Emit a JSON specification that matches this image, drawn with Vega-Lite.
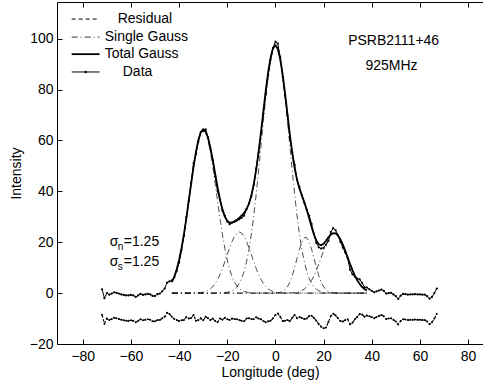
{
"$schema":"https://vega.github.io/schema/vega-lite/v6.json",
"width":426,"height":342,
"autosize":{"type":"none"},
"padding":{"left":57,"top":2,"right":0,"bottom":41},
"background":"white",
"config":{"view":{"stroke":null},"font":"Liberation Sans",
"axis":{"domainColor":"black","domainWidth":1,"tickColor":"black","tickWidth":1,"tickSize":-5,"labelFont":"Liberation Sans","labelFontSize":14,"labelColor":"black","titleFont":"Liberation Sans","titleFontSize":14,"titleFontWeight":"normal","titleColor":"black","grid":false,"labelFlush":false,"labelOverlap":false},
"text":{"font":"Liberation Sans","fontSize":14,"color":"black"}},
"resolve":{"axis":{"x":"independent"}},
"datasets":{
"one":[{}],
"fit":[
{"x":-43,"t":4.3,"g1":4.33,"g2":0,"g3":0,"g4":0,"g5":0},
{"x":-42,"t":6.4,"g1":6.44,"g2":0,"g3":0,"g4":0,"g5":0},
{"x":-41,"t":9.3,"g1":9.3,"g2":0,"g3":0,"g4":0,"g5":0},
{"x":-40,"t":13.0,"g1":12.99,"g2":0,"g3":0,"g4":0,"g5":0},
{"x":-39,"t":17.6,"g1":17.59,"g2":0,"g3":0,"g4":0,"g5":0},
{"x":-38,"t":23.1,"g1":23.07,"g2":0,"g3":0,"g4":0,"g5":0},
{"x":-37,"t":29.3,"g1":29.3,"g2":0,"g3":0,"g4":0,"g5":0},
{"x":-36,"t":36.1,"g1":36.05,"g2":0,"g3":0,"g4":0,"g5":0},
{"x":-35,"t":43.0,"g1":42.96,"g2":0.01,"g3":0,"g4":0,"g5":0},
{"x":-34,"t":49.6,"g1":49.59,"g2":0.03,"g3":0,"g4":0,"g5":0},
{"x":-33,"t":55.5,"g1":55.44,"g2":0.06,"g3":0,"g4":0,"g5":0},
{"x":-32,"t":60.2,"g1":60.04,"g2":0.11,"g3":0,"g4":0,"g5":0},
{"x":-31,"t":63.2,"g1":62.99,"g2":0.21,"g3":0,"g4":0,"g5":0},
{"x":-30,"t":64.4,"g1":64,"g2":0.37,"g3":0,"g4":0,"g5":0},
{"x":-29,"t":63.6,"g1":62.99,"g2":0.64,"g3":0,"g4":0,"g5":0},
{"x":-28,"t":61.1,"g1":60.04,"g2":1.05,"g3":0,"g4":0,"g5":0},
{"x":-27,"t":57.1,"g1":55.44,"g2":1.67,"g3":0,"g4":0,"g5":0},
{"x":-26,"t":52.2,"g1":49.59,"g2":2.56,"g3":0,"g4":0,"g5":0},
{"x":-25,"t":46.8,"g1":42.96,"g2":3.78,"g3":0.01,"g4":0,"g5":0},
{"x":-24,"t":41.4,"g1":36.05,"g2":5.37,"g3":0.02,"g4":0,"g5":0},
{"x":-23,"t":36.7,"g1":29.3,"g2":7.35,"g3":0.05,"g4":0,"g5":0},
{"x":-22,"t":32.9,"g1":23.07,"g2":9.7,"g3":0.09,"g4":0,"g5":0},
{"x":-21,"t":30.1,"g1":17.59,"g2":12.33,"g3":0.17,"g4":0,"g5":0},
{"x":-20,"t":28.4,"g1":12.99,"g2":15.12,"g3":0.31,"g4":0,"g5":0},
{"x":-19,"t":27.7,"g1":9.3,"g2":17.85,"g3":0.54,"g4":0,"g5":0},
{"x":-18,"t":27.7,"g1":6.44,"g2":20.32,"g3":0.92,"g4":0,"g5":0},
{"x":-17,"t":28.2,"g1":4.33,"g2":22.29,"g3":1.53,"g4":0,"g5":0},
{"x":-16,"t":28.8,"g1":2.81,"g2":23.56,"g3":2.45,"g4":0,"g5":0},
{"x":-15,"t":29.6,"g1":1.77,"g2":24,"g3":3.83,"g4":0,"g5":0},
{"x":-14,"t":30.5,"g1":1.08,"g2":23.56,"g3":5.81,"g4":0,"g5":0},
{"x":-13,"t":31.5,"g1":0.64,"g2":22.29,"g3":8.56,"g4":0,"g5":0},
{"x":-12,"t":33.0,"g1":0.37,"g2":20.32,"g3":12.26,"g4":0,"g5":0},
{"x":-11,"t":35.1,"g1":0.2,"g2":17.85,"g3":17.06,"g4":0,"g5":0},
{"x":-10,"t":38.3,"g1":0.11,"g2":15.12,"g3":23.06,"g4":0,"g5":0},
{"x":-9,"t":42.7,"g1":0.06,"g2":12.33,"g3":30.3,"g4":0,"g5":0},
{"x":-8,"t":48.4,"g1":0.03,"g2":9.7,"g3":38.69,"g4":0,"g5":0},
{"x":-7,"t":55.3,"g1":0.01,"g2":7.35,"g3":47.98,"g4":0,"g5":0},
{"x":-6,"t":63.2,"g1":0,"g2":5.37,"g3":57.84,"g4":0,"g5":0},
{"x":-5,"t":71.5,"g1":0,"g2":3.78,"g3":67.74,"g4":0,"g5":0},
{"x":-4,"t":79.7,"g1":0,"g2":2.56,"g3":77.09,"g4":0,"g5":0},
{"x":-3,"t":86.9,"g1":0,"g2":1.67,"g3":85.24,"g4":0,"g5":0},
{"x":-2,"t":92.6,"g1":0,"g2":1.05,"g3":91.58,"g4":0,"g5":0},
{"x":-1,"t":96.3,"g1":0,"g2":0.64,"g3":95.62,"g4":0.02,"g5":0},
{"x":0,"t":97.4,"g1":0,"g2":0.37,"g3":97,"g4":0.06,"g5":0},
{"x":1,"t":96.0,"g1":0,"g2":0.21,"g3":95.62,"g4":0.13,"g5":0},
{"x":2,"t":92.0,"g1":0,"g2":0.11,"g3":91.58,"g4":0.31,"g5":0},
{"x":3,"t":86.0,"g1":0,"g2":0.06,"g3":85.24,"g4":0.67,"g5":0},
{"x":4,"t":78.5,"g1":0,"g2":0.03,"g3":77.09,"g4":1.35,"g5":0},
{"x":5,"t":70.3,"g1":0,"g2":0.01,"g3":67.74,"g4":2.51,"g5":0.03},
{"x":6,"t":62.2,"g1":0,"g2":0,"g3":57.84,"g4":4.31,"g5":0.07},
{"x":7,"t":55.0,"g1":0,"g2":0,"g3":47.98,"g4":6.85,"g5":0.12},
{"x":8,"t":49.0,"g1":0,"g2":0,"g3":38.69,"g4":10.08,"g5":0.22},
{"x":9,"t":44.4,"g1":0,"g2":0,"g3":30.3,"g4":13.72,"g5":0.38},
{"x":10,"t":41.0,"g1":0,"g2":0,"g3":23.06,"g4":17.29,"g5":0.64},
{"x":11,"t":38.3,"g1":0,"g2":0,"g3":17.06,"g4":20.17,"g5":1.03},
{"x":12,"t":35.7,"g1":0,"g2":0,"g3":12.26,"g4":21.79,"g5":1.61},
{"x":13,"t":32.8,"g1":0,"g2":0,"g3":8.56,"g4":21.79,"g5":2.43},
{"x":14,"t":29.5,"g1":0,"g2":0,"g3":5.81,"g4":20.17,"g5":3.55},
{"x":15,"t":26.1,"g1":0,"g2":0,"g3":3.83,"g4":17.29,"g5":5.0},
{"x":16,"t":23.0,"g1":0,"g2":0,"g3":2.45,"g4":13.72,"g5":6.81},
{"x":17,"t":20.6,"g1":0,"g2":0,"g3":1.53,"g4":10.08,"g5":8.96},
{"x":18,"t":19.2,"g1":0,"g2":0,"g3":0.92,"g4":6.85,"g5":11.39},
{"x":19,"t":18.8,"g1":0,"g2":0,"g3":0.54,"g4":4.31,"g5":13.99},
{"x":20,"t":19.4,"g1":0,"g2":0,"g3":0.31,"g4":2.51,"g5":16.61},
{"x":21,"t":20.6,"g1":0,"g2":0,"g3":0.17,"g4":1.35,"g5":19.05},
{"x":22,"t":21.9,"g1":0,"g2":0,"g3":0.09,"g4":0.67,"g5":21.11},
{"x":23,"t":23.0,"g1":0,"g2":0,"g3":0.05,"g4":0.31,"g5":22.61},
{"x":24,"t":23.6,"g1":0,"g2":0,"g3":0.02,"g4":0.13,"g5":23.4},
{"x":25,"t":23.5,"g1":0,"g2":0,"g3":0.01,"g4":0.06,"g5":23.4},
{"x":26,"t":22.6,"g1":0,"g2":0,"g3":0,"g4":0.02,"g5":22.61},
{"x":27,"t":21.1,"g1":0,"g2":0,"g3":0,"g4":0,"g5":21.11},
{"x":28,"t":19.1,"g1":0,"g2":0,"g3":0,"g4":0,"g5":19.05},
{"x":29,"t":16.6,"g1":0,"g2":0,"g3":0,"g4":0,"g5":16.61},
{"x":30,"t":14.0,"g1":0,"g2":0,"g3":0,"g4":0,"g5":13.99},
{"x":31,"t":11.4,"g1":0,"g2":0,"g3":0,"g4":0,"g5":11.39},
{"x":32,"t":9.0,"g1":0,"g2":0,"g3":0,"g4":0,"g5":8.96},
{"x":33,"t":6.8,"g1":0,"g2":0,"g3":0,"g4":0,"g5":6.81},
{"x":34,"t":5.0,"g1":0,"g2":0,"g3":0,"g4":0,"g5":5.0},
{"x":35,"t":3.6,"g1":0,"g2":0,"g3":0,"g4":0,"g5":3.55},
{"x":36,"t":2.4,"g1":0,"g2":0,"g3":0,"g4":0,"g5":2.43},
{"x":37,"t":1.6,"g1":0,"g2":0,"g3":0,"g4":0,"g5":1.61},
{"x":38,"t":1.0,"g1":0,"g2":0,"g3":0,"g4":0,"g5":1.03}
],
"prof":[
{"x":-72,"d":1.5,"r":-8.5},{"x":-71,"d":-2.0,"r":-12},{"x":-70,"d":0,"r":-10},{"x":-69,"d":-0.6,"r":-10.6},
{"x":-68,"d":-0.2,"r":-10.2},{"x":-67,"d":0.3,"r":-9.7},{"x":-66,"d":0.1,"r":-9.9},{"x":-65,"d":-0.2,"r":-10.2},
{"x":-64,"d":-0.5,"r":-10.5},{"x":-63,"d":-0.7,"r":-10.7},{"x":-62,"d":-0.9,"r":-10.9},{"x":-61,"d":-0.9,"r":-10.9},
{"x":-60,"d":-0.7,"r":-10.7},{"x":-59,"d":-0.9,"r":-10.9},{"x":-58,"d":-1.5,"r":-11.5},{"x":-57,"d":-0.9,"r":-10.9},
{"x":-56,"d":-0.3,"r":-10.3},{"x":-55,"d":-0.7,"r":-10.7},{"x":-54,"d":-0.5,"r":-10.5},{"x":-53,"d":-0.3,"r":-10.3},
{"x":-52,"d":-0.5,"r":-10.5},{"x":-51,"d":-1.1,"r":-11.1},{"x":-50,"d":-1.1,"r":-11.1},{"x":-49,"d":-0.4,"r":-10.6},
{"x":-48,"d":-0.2,"r":-10.6},{"x":-47,"d":0.7,"r":-9.9},{"x":-46,"d":1.8,"r":-9.3},{"x":-45,"d":4.1,"r":-7.7},
{"x":-44,"d":4.6,"r":-8.2},{"x":-43,"d":5.0,"r":-9.3},{"x":-42,"d":6.2,"r":-10.2},{"x":-41,"d":8.7,"r":-10.6},
{"x":-40,"d":12.0,"r":-11},{"x":-39,"d":16.9,"r":-10.7},{"x":-38,"d":22.5,"r":-10.6},{"x":-37,"d":29.9,"r":-9.4},
{"x":-36,"d":36.1,"r":-10},{"x":-35,"d":43.2,"r":-9.8},{"x":-34,"d":51.0,"r":-8.6},{"x":-33,"d":54.6,"r":-10.9},
{"x":-32,"d":59.6,"r":-10.6},{"x":-31,"d":63.3,"r":-9.9},{"x":-30,"d":63.7,"r":-10.7},{"x":-29,"d":64.3,"r":-9.3},
{"x":-28,"d":61.2,"r":-9.9},{"x":-27,"d":56.5,"r":-10.6},{"x":-26,"d":52.2,"r":-10},{"x":-25,"d":45.8,"r":-11},
{"x":-24,"d":40.0,"r":-11.4},{"x":-23,"d":36.7,"r":-10},{"x":-22,"d":32.4,"r":-10.5},{"x":-21,"d":30.4,"r":-9.7},
{"x":-20,"d":28.1,"r":-10.3},{"x":-19,"d":27.1,"r":-10.6},{"x":-18,"d":27.7,"r":-10},{"x":-17,"d":28.0,"r":-10.2},
{"x":-16,"d":28.5,"r":-10.3},{"x":-15,"d":29.0,"r":-10.6},{"x":-14,"d":29.6,"r":-10.9},{"x":-13,"d":30.4,"r":-11.1},
{"x":-12,"d":33.0,"r":-10},{"x":-11,"d":35.2,"r":-9.9},{"x":-10,"d":38.1,"r":-10.2},{"x":-9,"d":42.4,"r":-10.3},
{"x":-8,"d":48.9,"r":-9.5},{"x":-7,"d":55.3,"r":-10},{"x":-6,"d":62.9,"r":-10.3},{"x":-5,"d":70.5,"r":-11},
{"x":-4,"d":78.2,"r":-11.5},{"x":-3,"d":85.8,"r":-11.1},{"x":-2,"d":91.7,"r":-10.9},{"x":-1,"d":96.4,"r":-9.9},
{"x":0,"d":98.8,"r":-8.6},{"x":1,"d":98.0,"r":-8},{"x":2,"d":92.7,"r":-9.3},{"x":3,"d":85.0,"r":-11},
{"x":4,"d":77.6,"r":-10.9},{"x":5,"d":69.7,"r":-10.6},{"x":6,"d":61.1,"r":-11.1},{"x":7,"d":55.3,"r":-9.7},
{"x":8,"d":50.4,"r":-8.6},{"x":9,"d":44.5,"r":-9.9},{"x":10,"d":41.6,"r":-9.4},{"x":11,"d":38.5,"r":-9.8},
{"x":12,"d":35.5,"r":-10.2},{"x":13,"d":32.8,"r":-10},{"x":14,"d":30.5,"r":-9},{"x":15,"d":27.2,"r":-8.9},
{"x":16,"d":23.3,"r":-9.7},{"x":17,"d":19.7,"r":-10.9},{"x":18,"d":18.0,"r":-12.2},{"x":19,"d":17.5,"r":-13.2},
{"x":20,"d":17.8,"r":-13.8},{"x":21,"d":19.0,"r":-13.5},{"x":22,"d":20.5,"r":-11.4},{"x":23,"d":24.0,"r":-9},
{"x":24,"d":25.5,"r":-8.1},{"x":25,"d":24.7,"r":-8.8},{"x":26,"d":22.7,"r":-9.9},{"x":27,"d":20.1,"r":-11},
{"x":28,"d":17.9,"r":-11.2},{"x":29,"d":16.0,"r":-10.6},{"x":30,"d":13.7,"r":-10.3},{"x":31,"d":9.2,"r":-12.2},
{"x":32,"d":7.4,"r":-11.6},{"x":33,"d":6.5,"r":-10.3},{"x":34,"d":5.7,"r":-9.3},{"x":35,"d":5.4,"r":-8.2},
{"x":36,"d":4.0,"r":-8.4},{"x":37,"d":2.3,"r":-9.3},{"x":38,"d":2.2,"r":-8.8},{"x":39,"d":1.5,"r":-9.1},
{"x":40,"d":0.9,"r":-9.5},{"x":41,"d":0.3,"r":-9.9},{"x":42,"d":0.7,"r":-9.4},{"x":43,"d":1.0,"r":-9},
{"x":44,"d":1.4,"r":-8.6},{"x":45,"d":0.9,"r":-9.1},{"x":46,"d":-0.2,"r":-10.2},{"x":47,"d":0,"r":-10},
{"x":48,"d":0.1,"r":-9.9},{"x":49,"d":-0.5,"r":-10.5},{"x":50,"d":-1.2,"r":-11.2},{"x":51,"d":-2.3,"r":-12.3},
{"x":52,"d":-1.0,"r":-11},{"x":53,"d":-0.3,"r":-10.3},{"x":54,"d":-0.4,"r":-10.4},{"x":55,"d":-0.6,"r":-10.6},
{"x":56,"d":-0.5,"r":-10.5},{"x":57,"d":-0.5,"r":-10.5},{"x":58,"d":-0.4,"r":-10.4},{"x":59,"d":-0.5,"r":-10.5},
{"x":60,"d":-0.5,"r":-10.5},{"x":61,"d":-0.6,"r":-10.6},{"x":62,"d":-0.6,"r":-10.6},{"x":63,"d":-1.2,"r":-11.2},
{"x":64,"d":-2.2,"r":-12.2},{"x":65,"d":-1.5,"r":-11.5},{"x":66,"d":0,"r":-10},{"x":67,"d":1.8,"r":-8.2}
]},
"layer":[
{"data":{"name":"fit"},"transform":[{"fold":["g1","g2","g3","g4","g5"],"as":["comp","val"]}],
 "mark":{"type":"line","strokeDash":[6,3,1,3],"strokeWidth":0.7,"color":"black"},
 "encoding":{
  "x":{"field":"x","type":"quantitative","scale":{"domain":[-90.7,86.2],"nice":false,"zero":false},"axis":{"orient":"bottom","values":[-80,-60,-40,-20,0,20,40,60,80],"title":"Longitude (deg)","titlePadding":2,"labelPadding":10}},
  "y":{"field":"val","type":"quantitative","scale":{"domain":[-20,114.4],"nice":false,"zero":false},"axis":{"values":[-20,0,20,40,60,80,100],"title":"Intensity","titlePadding":6,"labelPadding":9}},
  "detail":{"field":"comp"}}},
{"data":{"name":"prof"},"mark":{"type":"line","strokeDash":[3,1.5],"strokeWidth":1.1,"color":"black"},
 "encoding":{
  "x":{"field":"x","type":"quantitative","scale":{"domain":[-90.7,86.2],"nice":false,"zero":false},"axis":null},
  "y":{"field":"r","type":"quantitative","scale":{"domain":[-20,114.4],"nice":false,"zero":false},"title":"Intensity"}}},
{"data":{"name":"prof"},"mark":{"type":"point","filled":true,"size":4,"color":"black","opacity":1},
 "encoding":{
  "x":{"field":"x","type":"quantitative","scale":{"domain":[-90.7,86.2],"nice":false,"zero":false},"axis":null},
  "y":{"field":"r","type":"quantitative","scale":{"domain":[-20,114.4],"nice":false,"zero":false},"title":"Intensity"}}},
{"data":{"name":"fit"},"mark":{"type":"line","strokeWidth":1.8,"color":"black"},
 "encoding":{
  "x":{"field":"x","type":"quantitative","scale":{"domain":[-90.7,86.2],"nice":false,"zero":false},"axis":{"orient":"top","values":[-80,-60,-40,-20,0,20,40,60,80],"labels":false,"title":null}},
  "y":{"field":"t","type":"quantitative","scale":{"domain":[-20,114.4],"nice":false,"zero":false},"title":"Intensity"}}},
{"data":{"name":"prof"},"mark":{"type":"line","strokeWidth":1,"color":"black"},
 "encoding":{
  "x":{"field":"x","type":"quantitative","scale":{"domain":[-90.7,86.2],"nice":false,"zero":false},"axis":null},
  "y":{"field":"d","type":"quantitative","scale":{"domain":[-20,114.4],"nice":false,"zero":false},"title":"Intensity"}}},
{"data":{"name":"prof"},"mark":{"type":"point","filled":true,"size":5,"color":"black","opacity":1},
 "encoding":{
  "x":{"field":"x","type":"quantitative","scale":{"domain":[-90.7,86.2],"nice":false,"zero":false},"axis":null},
  "y":{"field":"d","type":"quantitative","scale":{"domain":[-20,114.4],"nice":false,"zero":false},"title":"Intensity"}}},
{"data":{"name":"one"},"mark":{"type":"rule","strokeDash":[4,3],"strokeWidth":1,"color":"black"},
 "encoding":{"x":{"datum":-84.6,"type":"quantitative","axis":null},"x2":{"datum":-73},"y":{"datum":107.7,"type":"quantitative"}}},
{"data":{"name":"one"},"mark":{"type":"rule","strokeDash":[6,3,1,3],"strokeWidth":0.8,"color":"black"},
 "encoding":{"x":{"datum":-84.6,"type":"quantitative","axis":null},"x2":{"datum":-73},"y":{"datum":100.6,"type":"quantitative"}}},
{"data":{"name":"one"},"mark":{"type":"rule","strokeWidth":1.8,"color":"black"},
 "encoding":{"x":{"datum":-84.6,"type":"quantitative","axis":null},"x2":{"datum":-73},"y":{"datum":93.9,"type":"quantitative"}}},
{"data":{"name":"one"},"mark":{"type":"rule","strokeWidth":1,"color":"black"},
 "encoding":{"x":{"datum":-84.6,"type":"quantitative","axis":null},"x2":{"datum":-73},"y":{"datum":86.9,"type":"quantitative"}}},
{"data":{"name":"one"},"mark":{"type":"point","filled":true,"size":6,"color":"black","opacity":1},
 "encoding":{"x":{"datum":-78.8,"type":"quantitative","axis":null},"y":{"datum":86.9,"type":"quantitative"}}},
{"data":{"name":"one"},"mark":{"type":"text","align":"left","baseline":"middle"},
 "encoding":{"x":{"datum":-65.5,"type":"quantitative","axis":null},"y":{"datum":107.7,"type":"quantitative"},"text":{"value":"Residual"}}},
{"data":{"name":"one"},"mark":{"type":"text","align":"left","baseline":"middle"},
 "encoding":{"x":{"datum":-70.9,"type":"quantitative","axis":null},"y":{"datum":100.6,"type":"quantitative"},"text":{"value":"Single Gauss"}}},
{"data":{"name":"one"},"mark":{"type":"text","align":"left","baseline":"middle"},
 "encoding":{"x":{"datum":-70.9,"type":"quantitative","axis":null},"y":{"datum":93.9,"type":"quantitative"},"text":{"value":"Total Gauss"}}},
{"data":{"name":"one"},"mark":{"type":"text","align":"left","baseline":"middle"},
 "encoding":{"x":{"datum":-63.4,"type":"quantitative","axis":null},"y":{"datum":86.9,"type":"quantitative"},"text":{"value":"Data"}}},
{"data":{"name":"one"},"mark":{"type":"text","align":"center","baseline":"middle"},
 "encoding":{"x":{"datum":49.1,"type":"quantitative","axis":null},"y":{"datum":99.2,"type":"quantitative"},"text":{"value":"PSRB2111+46"}}},
{"data":{"name":"one"},"mark":{"type":"text","align":"center","baseline":"middle"},
 "encoding":{"x":{"datum":48.2,"type":"quantitative","axis":null},"y":{"datum":89.2,"type":"quantitative"},"text":{"value":"925MHz"}}},
{"data":{"name":"one"},"mark":{"type":"text","align":"left","baseline":"middle"},
 "encoding":{"x":{"datum":-68.8,"type":"quantitative","axis":null},"y":{"datum":20,"type":"quantitative"},"text":{"value":"σ"}}},
{"data":{"name":"one"},"mark":{"type":"text","align":"left","baseline":"middle","fontSize":10,"dx":8,"dy":5},
 "encoding":{"x":{"datum":-68.8,"type":"quantitative","axis":null},"y":{"datum":20,"type":"quantitative"},"text":{"value":"n"}}},
{"data":{"name":"one"},"mark":{"type":"text","align":"left","baseline":"middle","dx":14},
 "encoding":{"x":{"datum":-68.8,"type":"quantitative","axis":null},"y":{"datum":20,"type":"quantitative"},"text":{"value":"=1.25"}}},
{"data":{"name":"one"},"mark":{"type":"text","align":"left","baseline":"middle"},
 "encoding":{"x":{"datum":-68.8,"type":"quantitative","axis":null},"y":{"datum":12.4,"type":"quantitative"},"text":{"value":"σ"}}},
{"data":{"name":"one"},"mark":{"type":"text","align":"left","baseline":"middle","fontSize":10,"dx":8,"dy":5},
 "encoding":{"x":{"datum":-68.8,"type":"quantitative","axis":null},"y":{"datum":12.4,"type":"quantitative"},"text":{"value":"s"}}},
{"data":{"name":"one"},"mark":{"type":"text","align":"left","baseline":"middle","dx":14},
 "encoding":{"x":{"datum":-68.8,"type":"quantitative","axis":null},"y":{"datum":12.4,"type":"quantitative"},"text":{"value":"=1.25"}}}
]
}
